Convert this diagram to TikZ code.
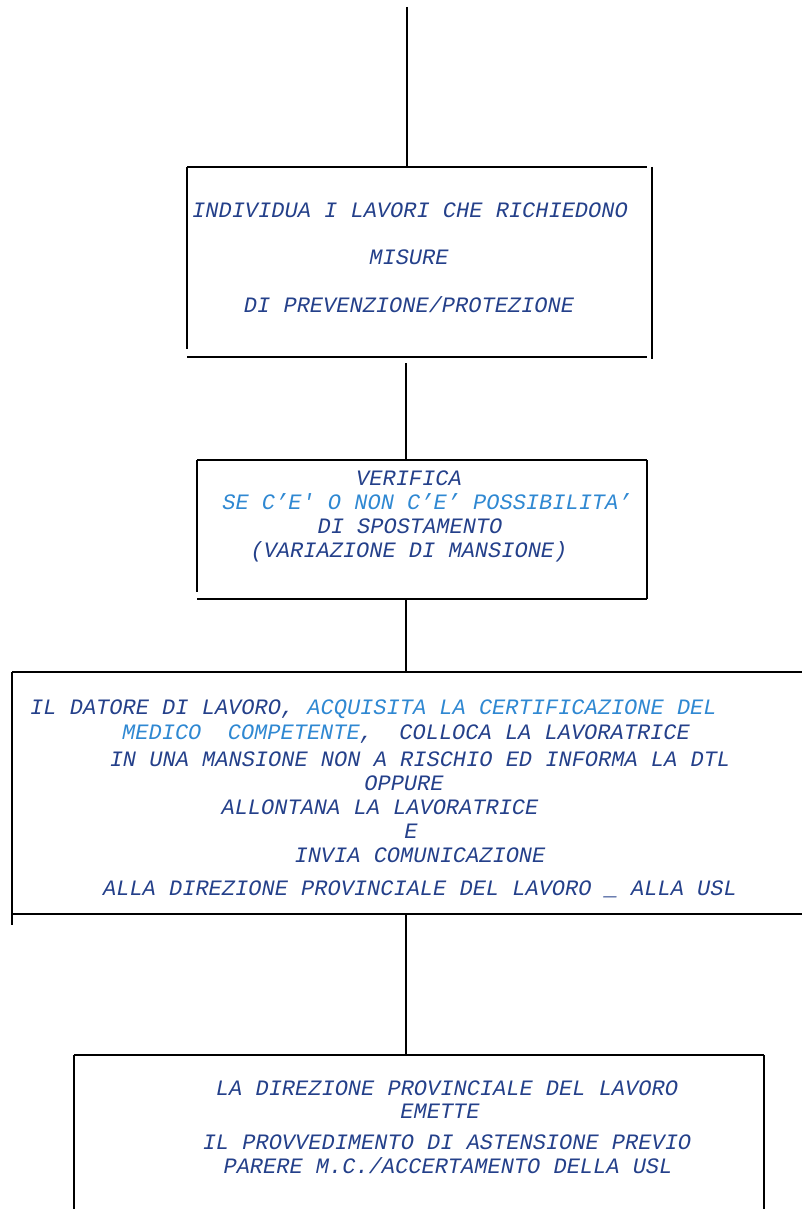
\documentclass[tikz,border=0pt]{standalone}
\usepackage{fontspec}
\newfontfamily\monofam{Liberation Mono}
\definecolor{navy}{HTML}{24408A}
\definecolor{lblue}{HTML}{2F88D2}
\begin{document}
\begin{tikzpicture}[x=1pt,y=-1pt,
  edge/.style={line width=2pt,black},
  txt/.style={inner sep=0pt,anchor=base,text=navy,font=\monofam\itshape\fontsize{22}{24}\selectfont},
  txtw/.style={txt,anchor=base west}]
\useasboundingbox (0,0) rectangle (802,1209);
% top stub
\coordinate (top) at (407,7);
% box 1
\coordinate (b1t) at (407,167);
\coordinate (b1b) at (406,363);
\draw[edge] (187,167) -- (647,167);
\draw[edge] (187,167) -- (187,349);
\draw[edge] (187,357) -- (647,357);
\draw[edge] (652,167) -- (652,359);
\node[txt] (t11) at (410,217) {INDIVIDUA I LAVORI CHE RICHIEDONO};
\node[txt] (t12) at (409,264) {MISURE};
\node[txt] (t13) at (409,312) {DI PREVENZIONE/PROTEZIONE};
% box 2
\coordinate (b2t) at (406,460);
\coordinate (b2b) at (406,599);
\draw[edge] (197,460) -- (647,460);
\draw[edge] (197,460) -- (197,592);
\draw[edge] (197,599) -- (647,599);
\draw[edge] (647,460) -- (647,599);
\node[txt] (t21) at (409,485) {VERIFICA};
\node[txt,text=lblue] (t22) at (427,509) {SE C’E' O NON C’E’ POSSIBILITA’};
\node[txt] (t23) at (410,533) {DI SPOSTAMENTO};
\node[txt] (t24) at (409,557) {(VARIAZIONE DI MANSIONE)};
% box 3
\coordinate (b3t) at (406,672);
\coordinate (b3b) at (406,914);
\draw[edge] (12,672) -- (802,672);
\draw[edge] (12,672) -- (12,925);
\draw[edge] (12,914) -- (802,914);
\node[txtw] (t31) at (30,714) {IL DATORE DI LAVORO, \textcolor{lblue}{ACQUISITA LA CERTIFICAZIONE DEL}};
\node[txtw] (t32) at (122,739) {\textcolor{lblue}{MEDICO\ \ COMPETENTE},\ \ COLLOCA LA LAVORATRICE};
\node[txt] (t33) at (420,766) {IN UNA MANSIONE NON A RISCHIO ED INFORMA LA DTL};
\node[txt] (t34) at (404,790) {OPPURE};
\node[txt] (t35) at (380,814) {ALLONTANA LA LAVORATRICE};
\node[txt] (t36) at (411,838) {E};
\node[txt] (t37) at (420,862) {INVIA COMUNICAZIONE};
\node[txt] (t38) at (420,895) {ALLA DIREZIONE PROVINCIALE DEL LAVORO \_ ALLA USL};
% box 4
\coordinate (b4t) at (406,1055);
\draw[edge] (74,1055) -- (764,1055);
\draw[edge] (74,1055) -- (74,1209);
\draw[edge] (764,1055) -- (764,1209);
\node[txt] (t41) at (447,1095) {LA DIREZIONE PROVINCIALE DEL LAVORO};
\node[txt] (t42) at (440,1118) {EMETTE};
\node[txt] (t43) at (447,1149) {IL PROVVEDIMENTO DI ASTENSIONE PREVIO};
\node[txt] (t44) at (448,1173) {PARERE M.C./ACCERTAMENTO DELLA USL};
% connectors
\draw[edge] (top) -- (b1t);
\draw[edge] (b1b) -- (b2t);
\draw[edge] (b2b) -- (b3t);
\draw[edge] (b3b) -- (b4t);
\end{tikzpicture}
\end{document}
